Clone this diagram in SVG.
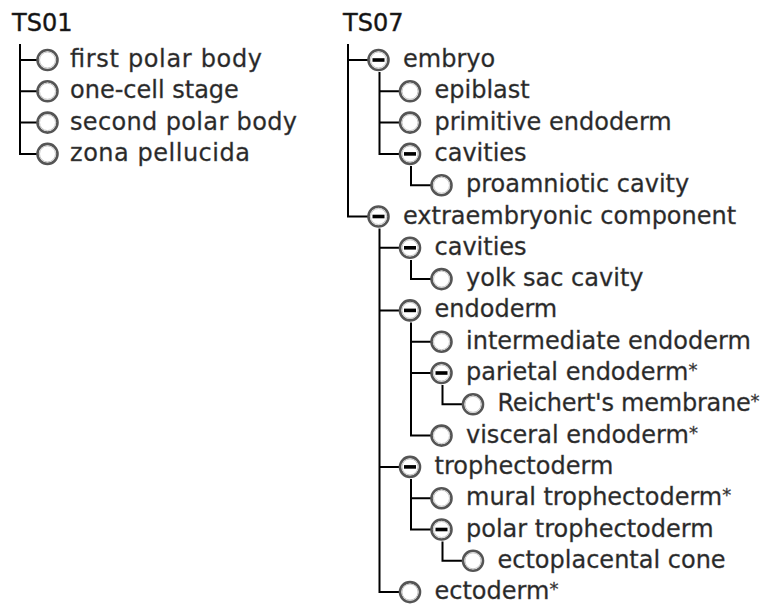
<svg xmlns="http://www.w3.org/2000/svg" xmlns:xlink="http://www.w3.org/1999/xlink" width="763" height="604" viewBox="0 0 763 604">
<style>
.t{font-family:"DejaVu Sans","Liberation Sans",sans-serif;font-size:24px;fill:#262626;stroke:#555;stroke-width:0.35}
.h{font-family:"DejaVu Sans","Liberation Sans",sans-serif;font-size:24px;fill:#111;stroke:#333;stroke-width:0.45}
.s{font-size:18px}
.c{fill:none;stroke:#000;stroke-width:2}
.ring{fill:#fff;stroke:#555;stroke-width:2.6}
.inner{fill:none;stroke:#c4c4c4;stroke-width:1}
.bar{fill:#000}
</style>
<defs>
<g id="open"><circle class="ring" r="10"/><circle class="inner" r="8"/></g>
<g id="minus"><circle class="ring" r="10"/><circle class="inner" r="8"/><rect class="bar" x="-6" y="-1.8" width="12" height="3.6"/></g>
</defs>
<rect width="763" height="604" fill="#fff"/>
<g id="connectors">
<path class="c" d="M20 44V153.9H37M20 60H37M20 91.3H37M20 122.6H37"/>
<path class="c" d="M348 44V216.5H368M348 60H368"/>
<path class="c" d="M379.5 72V153.9H399.5M379.5 91.3H399.5M379.5 122.6H399.5"/>
<path class="c" d="M411 166V185.2H431"/>
<path class="c" d="M379.5 228.5V592.1H399.5M379.5 247.8H399.5M379.5 310.4H399.5M379.5 466.9H399.5"/>
<path class="c" d="M411 260V279.1H431"/>
<path class="c" d="M411 322.4V435.6H431M411 341.7H431M411 373H431"/>
<path class="c" d="M442.5 385V404.3H462.5"/>
<path class="c" d="M411 479V529.5H431M411 498.2H431"/>
<path class="c" d="M442.5 541.5V560.8H462.5"/>
</g>
<g id="ts01"><text class="h" x="12" y="31">TS01</text></g>
<g id="first-polar-body"><use xlink:href="#open" x="47.5" y="60"/><text class="t" x="70" y="67" textLength="192">first polar body</text></g>
<g id="one-cell-stage"><use xlink:href="#open" x="47.5" y="91.3"/><text class="t" x="70" y="98.3">one-cell stage</text></g>
<g id="second-polar-body"><use xlink:href="#open" x="47.5" y="122.6"/><text class="t" x="70" y="129.6" textLength="227">second polar body</text></g>
<g id="zona-pellucida"><use xlink:href="#open" x="47.5" y="153.9"/><text class="t" x="70" y="160.9" textLength="180">zona pellucida</text></g>
<g id="ts07"><text class="h" x="343" y="31">TS07</text></g>
<g id="embryo"><use xlink:href="#minus" x="378.5" y="60"/><text class="t" x="403" y="67">embryo</text></g>
<g id="epiblast"><use xlink:href="#open" x="410" y="91.3"/><text class="t" x="434.5" y="98.3">epiblast</text></g>
<g id="primitive-endoderm"><use xlink:href="#open" x="410" y="122.6"/><text class="t" x="434.5" y="129.6">primitive endoderm</text></g>
<g id="cavities-1"><use xlink:href="#minus" x="410" y="153.9"/><text class="t" x="434.5" y="160.9">cavities</text></g>
<g id="proamniotic-cavity"><use xlink:href="#open" x="441.5" y="185.2"/><text class="t" x="466" y="192.2">proamniotic cavity</text></g>
<g id="extraembryonic-component"><use xlink:href="#minus" x="378.5" y="216.5"/><text class="t" x="403" y="223.5">extraembryonic component</text></g>
<g id="cavities-2"><use xlink:href="#minus" x="410" y="247.8"/><text class="t" x="434.5" y="254.8">cavities</text></g>
<g id="yolk-sac-cavity"><use xlink:href="#open" x="441.5" y="279.1"/><text class="t" x="466" y="286.1">yolk sac cavity</text></g>
<g id="endoderm"><use xlink:href="#minus" x="410" y="310.4"/><text class="t" x="434.5" y="317.4">endoderm</text></g>
<g id="intermediate-endoderm"><use xlink:href="#open" x="441.5" y="341.7"/><text class="t" x="466" y="348.7">intermediate endoderm</text></g>
<g id="parietal-endoderm"><use xlink:href="#minus" x="441.5" y="373"/><text class="t" x="466" y="380">parietal endoderm<tspan class="s" dy="-4">*</tspan></text></g>
<g id="reicherts-membrane"><use xlink:href="#open" x="473" y="404.3"/><text class="t" x="497.5" y="411.3" textLength="262">Reichert's membrane<tspan class="s" dy="-4">*</tspan></text></g>
<g id="visceral-endoderm"><use xlink:href="#open" x="441.5" y="435.6"/><text class="t" x="466" y="442.6">visceral endoderm<tspan class="s" dy="-4">*</tspan></text></g>
<g id="trophectoderm"><use xlink:href="#minus" x="410" y="466.9"/><text class="t" x="434.5" y="473.9">trophectoderm</text></g>
<g id="mural-trophectoderm"><use xlink:href="#open" x="441.5" y="498.2"/><text class="t" x="466" y="505.2">mural trophectoderm<tspan class="s" dy="-4">*</tspan></text></g>
<g id="polar-trophectoderm"><use xlink:href="#minus" x="441.5" y="529.5"/><text class="t" x="466" y="536.5">polar trophectoderm</text></g>
<g id="ectoplacental-cone"><use xlink:href="#open" x="473" y="560.8"/><text class="t" x="497.5" y="567.8">ectoplacental cone</text></g>
<g id="ectoderm"><use xlink:href="#open" x="410" y="592.1"/><text class="t" x="434.5" y="599.1">ectoderm<tspan class="s" dy="-4">*</tspan></text></g>
</svg>
